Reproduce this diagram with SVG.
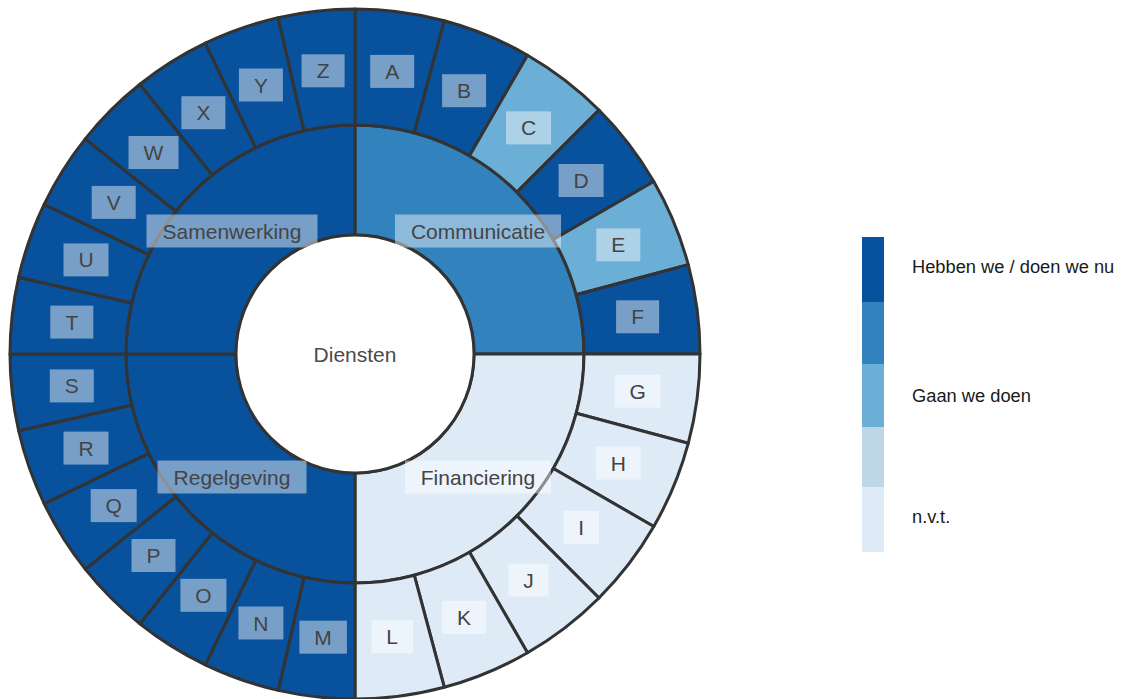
<svg xmlns="http://www.w3.org/2000/svg" xmlns:xlink="http://www.w3.org/1999/xlink" width="1131" height="699" viewBox="0 0 1131 699">
<style>
.seg{stroke:#333;stroke-width:3;stroke-linejoin:round}
.c1{fill:#08519c}.c2{fill:#3182bd}.c3{fill:#6baed6}.c4{fill:#bdd7e7}.c5{fill:#deebf7}
.box{fill:#fff;fill-opacity:0.45}
.lbl{font-family:"Liberation Sans",Arial,sans-serif;font-size:21px;fill:#444;text-anchor:middle}
.leg{font-family:"Liberation Sans",Arial,sans-serif;font-size:18.3px;fill:#1a1a1a}
</style>
<defs>
<path id="o15" d="M355,9 A345,345 0 0 1 444.293,20.755 L414.270,132.803 A229,229 0 0 0 355,125 Z"/>
<path id="o13" d="M355,9 A345,345 0 0 1 431.770,17.650 L405.957,130.742 A229,229 0 0 0 355,125 Z"/>
<path id="q" d="M355,125 A229,229 0 0 1 584,354 L474,354 A119,119 0 0 0 355,235 Z"/>
</defs>
<rect width="1131" height="699" fill="#fff"/>

<g id="connectors"></g>

<g id="mid-communicatie"><use xlink:href="#q" class="seg c2"/></g>
<g id="mid-financiering"><use xlink:href="#q" class="seg c5" transform="rotate(90 355 354)"/></g>
<g id="mid-regelgeving"><use xlink:href="#q" class="seg c1" transform="rotate(180 355 354)"/></g>
<g id="mid-samenwerking"><use xlink:href="#q" class="seg c1" transform="rotate(270 355 354)"/></g>

<g id="seg-A"><use xlink:href="#o15" class="seg c1"/></g>
<g id="seg-B"><use xlink:href="#o15" class="seg c1" transform="rotate(15 355 354)"/></g>
<g id="seg-C"><use xlink:href="#o15" class="seg c3" transform="rotate(30 355 354)"/></g>
<g id="seg-D"><use xlink:href="#o15" class="seg c1" transform="rotate(45 355 354)"/></g>
<g id="seg-E"><use xlink:href="#o15" class="seg c3" transform="rotate(60 355 354)"/></g>
<g id="seg-F"><use xlink:href="#o15" class="seg c1" transform="rotate(75 355 354)"/></g>
<g id="seg-G"><use xlink:href="#o15" class="seg c5" transform="rotate(90 355 354)"/></g>
<g id="seg-H"><use xlink:href="#o15" class="seg c5" transform="rotate(105 355 354)"/></g>
<g id="seg-I"><use xlink:href="#o15" class="seg c5" transform="rotate(120 355 354)"/></g>
<g id="seg-J"><use xlink:href="#o15" class="seg c5" transform="rotate(135 355 354)"/></g>
<g id="seg-K"><use xlink:href="#o15" class="seg c5" transform="rotate(150 355 354)"/></g>
<g id="seg-L"><use xlink:href="#o15" class="seg c5" transform="rotate(165 355 354)"/></g>
<g id="seg-M"><use xlink:href="#o13" class="seg c1" transform="rotate(180 355 354)"/></g>
<g id="seg-N"><use xlink:href="#o13" class="seg c1" transform="rotate(192.857 355 354)"/></g>
<g id="seg-O"><use xlink:href="#o13" class="seg c1" transform="rotate(205.714 355 354)"/></g>
<g id="seg-P"><use xlink:href="#o13" class="seg c1" transform="rotate(218.571 355 354)"/></g>
<g id="seg-Q"><use xlink:href="#o13" class="seg c1" transform="rotate(231.429 355 354)"/></g>
<g id="seg-R"><use xlink:href="#o13" class="seg c1" transform="rotate(244.286 355 354)"/></g>
<g id="seg-S"><use xlink:href="#o13" class="seg c1" transform="rotate(257.143 355 354)"/></g>
<g id="seg-T"><use xlink:href="#o13" class="seg c1" transform="rotate(270 355 354)"/></g>
<g id="seg-U"><use xlink:href="#o13" class="seg c1" transform="rotate(282.857 355 354)"/></g>
<g id="seg-V"><use xlink:href="#o13" class="seg c1" transform="rotate(295.714 355 354)"/></g>
<g id="seg-W"><use xlink:href="#o13" class="seg c1" transform="rotate(308.571 355 354)"/></g>
<g id="seg-X"><use xlink:href="#o13" class="seg c1" transform="rotate(321.429 355 354)"/></g>
<g id="seg-Y"><use xlink:href="#o13" class="seg c1" transform="rotate(334.286 355 354)"/></g>
<g id="seg-Z"><use xlink:href="#o13" class="seg c1" transform="rotate(347.143 355 354)"/></g>

<g id="root-diensten">
<circle cx="355" cy="354" r="119" fill="#fff" stroke="#333" stroke-width="3"/>
<text x="355" y="362" class="lbl" fill="#4a4a4a" style="fill:#4a4a4a">Diensten</text>
</g>

<g id="labels-mid">
<rect class="box" x="395" y="214.5" width="166" height="33"/><text class="lbl" x="478" y="238.5">Communicatie</text>
<rect class="box" x="405" y="460.5" width="146" height="33"/><text class="lbl" x="478" y="484.5">Financiering</text>
<rect class="box" x="157.5" y="460.5" width="149" height="33"/><text class="lbl" x="232" y="484.5">Regelgeving</text>
<rect class="box" x="146.5" y="214.5" width="171" height="33"/><text class="lbl" x="232" y="238.5">Samenwerking</text>
</g>

<g id="labels-outer">
<rect class="box" x="370.2" y="54.9" width="44" height="33"/><text class="lbl" x="392.2" y="78.9">A</text>
<rect class="box" x="442.1" y="74.2" width="44" height="33"/><text class="lbl" x="464.1" y="98.2">B</text>
<rect class="box" x="506" y="111.4" width="45" height="33"/><text class="lbl" x="528.5" y="135.4">C</text>
<rect class="box" x="558.6" y="164" width="45" height="33"/><text class="lbl" x="581.1" y="188">D</text>
<rect class="box" x="596.3" y="228.4" width="44" height="33"/><text class="lbl" x="618.3" y="252.4">E</text>
<rect class="box" x="616.1" y="300.3" width="43" height="33"/><text class="lbl" x="637.6" y="324.3">F</text>
<rect class="box" x="614.6" y="374.7" width="46" height="33"/><text class="lbl" x="637.6" y="398.7">G</text>
<rect class="box" x="595.8" y="446.6" width="45" height="33"/><text class="lbl" x="618.3" y="470.6">H</text>
<rect class="box" x="563.1" y="511" width="36" height="33"/><text class="lbl" x="581.1" y="535">I</text>
<rect class="box" x="508.3" y="563.6" width="40.5" height="33"/><text class="lbl" x="528.5" y="587.6">J</text>
<rect class="box" x="442.1" y="600.8" width="44" height="33"/><text class="lbl" x="464.1" y="624.8">K</text>
<rect class="box" x="371.4" y="620.1" width="41.7" height="33"/><text class="lbl" x="392.2" y="644.1">L</text>
<rect class="box" x="299.4" y="620.7" width="47.5" height="33"/><text class="lbl" x="323.1" y="644.7">M</text>
<rect class="box" x="238.4" y="606.5" width="45" height="33"/><text class="lbl" x="260.9" y="630.5">N</text>
<rect class="box" x="180.4" y="578.8" width="46" height="33"/><text class="lbl" x="203.4" y="602.8">O</text>
<rect class="box" x="131.5" y="539" width="44" height="33"/><text class="lbl" x="153.5" y="563">P</text>
<rect class="box" x="90.7" y="489.1" width="46" height="33"/><text class="lbl" x="113.7" y="513.1">Q</text>
<rect class="box" x="63.5" y="431.6" width="45" height="33"/><text class="lbl" x="86" y="455.6">R</text>
<rect class="box" x="49.8" y="369.4" width="44" height="33"/><text class="lbl" x="71.8" y="393.4">S</text>
<rect class="box" x="50.3" y="305.6" width="43" height="33"/><text class="lbl" x="71.8" y="329.6">T</text>
<rect class="box" x="63.5" y="243.4" width="45" height="33"/><text class="lbl" x="86" y="267.4">U</text>
<rect class="box" x="91.7" y="185.9" width="44" height="33"/><text class="lbl" x="113.7" y="209.9">V</text>
<rect class="box" x="128.5" y="136" width="50" height="33"/><text class="lbl" x="153.5" y="160">W</text>
<rect class="box" x="181.4" y="96.2" width="44" height="33"/><text class="lbl" x="203.4" y="120.2">X</text>
<rect class="box" x="238.9" y="68.5" width="44" height="33"/><text class="lbl" x="260.9" y="92.5">Y</text>
<rect class="box" x="301.6" y="54.3" width="43" height="33"/><text class="lbl" x="323.1" y="78.3">Z</text>
</g>

<g id="legend">
<rect class="c1" x="862" y="237" width="22" height="65"/>
<rect class="c2" x="862" y="302" width="22" height="62"/>
<rect class="c3" x="862" y="364" width="22" height="63"/>
<rect class="c4" x="862" y="427" width="22" height="60"/>
<rect class="c5" x="862" y="487" width="22" height="65"/>
<text class="leg" x="912" y="273">Hebben we / doen we nu</text>
<text class="leg" x="912" y="402">Gaan we doen</text>
<text class="leg" x="912" y="523">n.v.t.</text>
</g>
</svg>
